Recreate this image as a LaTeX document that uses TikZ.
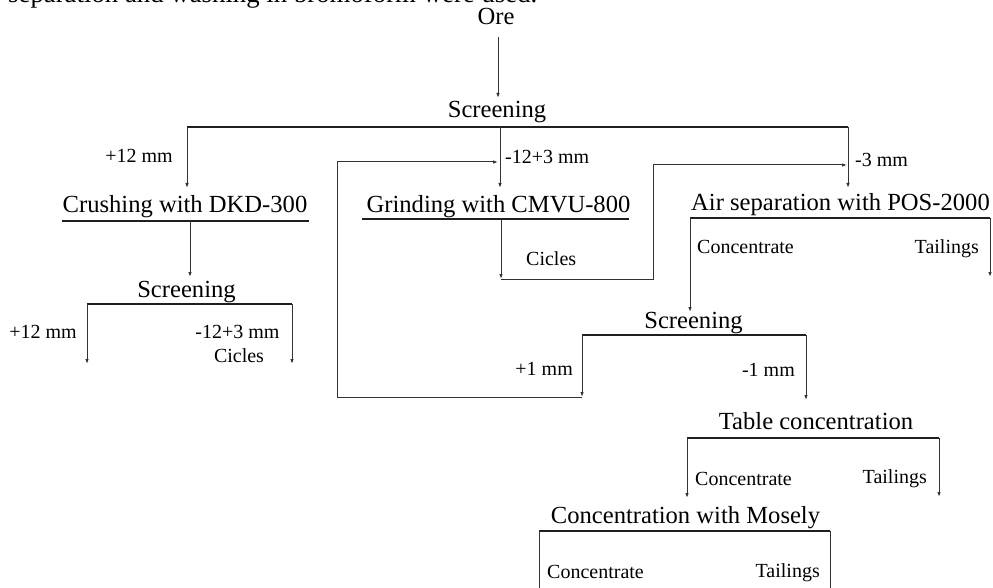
\documentclass[tikz,border=0pt]{standalone}
\usepackage{fontspec}
\setmainfont{Liberation Serif}
\usetikzlibrary{arrows.meta}
\begin{document}
\begin{tikzpicture}[x=1pt,y=-1pt,
  big/.style={font=\fontsize{24.6}{28}\selectfont, inner sep=0pt},
  small/.style={font=\fontsize{20}{24}\selectfont, inner sep=0pt},
  capt/.style={font=\fontsize{26.8}{30}\selectfont, inner sep=0pt},
  bar/.style={line width=2.4pt, draw=black!88},
  flow/.style={line width=1pt, draw=black!80, -{Latex[length=5pt,width=3.5pt]}},
  wire/.style={line width=1pt, draw=black!80},
]
\useasboundingbox (0,0) rectangle (993,588);
\begin{scope}
\clip (0,0) rectangle (993,588);
\node[capt, anchor=base west] (caption) at (8,3) {separation and washing in bromoform were used.};
\end{scope}

% ---- text nodes ----
\node[big, anchor=base] (ore) at (496,25) {Ore};
\node[big, anchor=base] (scr1) at (497,118) {Screening};
\node[small, anchor=base east] (p12a) at (173,163) {+12 mm};
\node[small, anchor=base west] (m12a) at (505,164) {-12+3 mm};
\node[small, anchor=base west] (m3) at (855,167) {-3 mm};
\node[big, anchor=base] (crush) at (185,212) {Crushing with DKD-300};
\node[big, anchor=base] (grind) at (498.5,212) {Grinding with CMVU-800};
\node[big, anchor=base] (air) at (840.5,211) {Air separation with POS-2000};
\node[big, anchor=base] (scr2) at (186.5,297) {Screening};
\node[small, anchor=base east] (p12b) at (77,338) {+12 mm};
\node[small, anchor=base] (m12b) at (237.5,338) {-12+3 mm};
\node[small, anchor=base] (cic1) at (239,362) {Cicles};
\node[small, anchor=base west] (cic2) at (526,265) {Cicles};
\node[small, anchor=base west] (conc1) at (697,253) {Concentrate};
\node[small, anchor=base east] (tail1) at (979,254) {Tailings};
\node[big, anchor=base] (scr3) at (693.5,328) {Screening};
\node[small, anchor=base east] (p1) at (573,375) {+1 mm};
\node[small, anchor=base east] (m1) at (795,376) {-1 mm};
\node[big, anchor=base] (table) at (816,429) {Table concentration};
\node[small, anchor=base west] (conc2) at (695,485) {Concentrate};
\node[small, anchor=base east] (tail2) at (927,483) {Tailings};
\node[big, anchor=base] (mosely) at (685.5,523) {Concentration with Mosely};
\node[small, anchor=base west] (conc3) at (547,578) {Concentrate};
\node[small, anchor=base east] (tail3) at (820,577) {Tailings};

% ---- coordinates ----
\coordinate (oreS) at (498,37);
\coordinate (scr1N) at (498,98);
\coordinate (b1L) at (187,127);
\coordinate (b1M) at (500,127);
\coordinate (b1R) at (848,127);
\coordinate (crushN) at (187,188);
\coordinate (grindN) at (500,188);
\coordinate (airN) at (848,188);
\coordinate (u1L) at (62,221);
\coordinate (u1R) at (309,221);
\coordinate (u1M) at (190,221);
\coordinate (scr2N) at (190,277);
\coordinate (b2L) at (87,304);
\coordinate (b2R) at (292,304);
\coordinate (o2L) at (87,364);
\coordinate (o2R) at (292,364);
\coordinate (u2L) at (362,219);
\coordinate (u2R) at (629,219);
\coordinate (u2M) at (501,219);
\coordinate (g1) at (501,279);
\coordinate (g2) at (653,279);
\coordinate (g3) at (653,165);
\coordinate (g4) at (847,165);
\coordinate (u3L) at (690,218);
\coordinate (u3R) at (990,218);
\coordinate (scr3N) at (690,312);
\coordinate (o3R) at (990,277);
\coordinate (b3L) at (582,335);
\coordinate (b3R) at (806,335);
\coordinate (r1) at (582,397);
\coordinate (r2) at (337,397);
\coordinate (r3) at (337,162);
\coordinate (r4) at (498,162);
\coordinate (tableN) at (806,400);
\coordinate (b4L) at (687,438);
\coordinate (b4R) at (939,438);
\coordinate (moselyN) at (687,498);
\coordinate (o4R) at (939,497);
\coordinate (b5L) at (539,531);
\coordinate (b5R) at (830,531);
\coordinate (o5L) at (539,592);
\coordinate (o5R) at (830,592);

% ---- bars ----
\draw[bar] (b1L) -- (b1R);
\draw[bar] (u1L) -- (u1R);
\draw[bar] (b2L) -- (b2R);
\draw[bar] (u2L) -- (u2R);
\draw[bar] (u3L) -- (u3R);
\draw[bar] (b3L) -- (b3R);
\draw[bar] (b4L) -- (b4R);
\draw[bar] (b5L) -- (b5R);

% ---- flows ----
\draw[flow] (oreS) -- (scr1N);
\draw[flow] (b1L) -- (crushN);
\draw[flow] (b1M) -- (grindN);
\draw[flow] (b1R) -- (airN);
\draw[flow] (u1M) -- (scr2N);
\draw[flow] (b2L) -- (o2L);
\draw[flow] (b2R) -- (o2R);
\draw[flow] (u2M) -- (g1);
\draw[flow] (g1) -- (g2) -- (g3) -- (g4);
\draw[flow] (u3L) -- (scr3N);
\draw[flow] (u3R) -- (o3R);
\draw[flow] (b3L) -- (r1);
\draw[flow] (r1) -- (r2) -- (r3) -- (r4);
\draw[flow] (b3R) -- (tableN);
\draw[flow] (b4L) -- (moselyN);
\draw[flow] (b4R) -- (o4R);
\draw[wire] (b5L) -- (o5L);
\draw[wire] (b5R) -- (o5R);
\end{tikzpicture}
\end{document}
